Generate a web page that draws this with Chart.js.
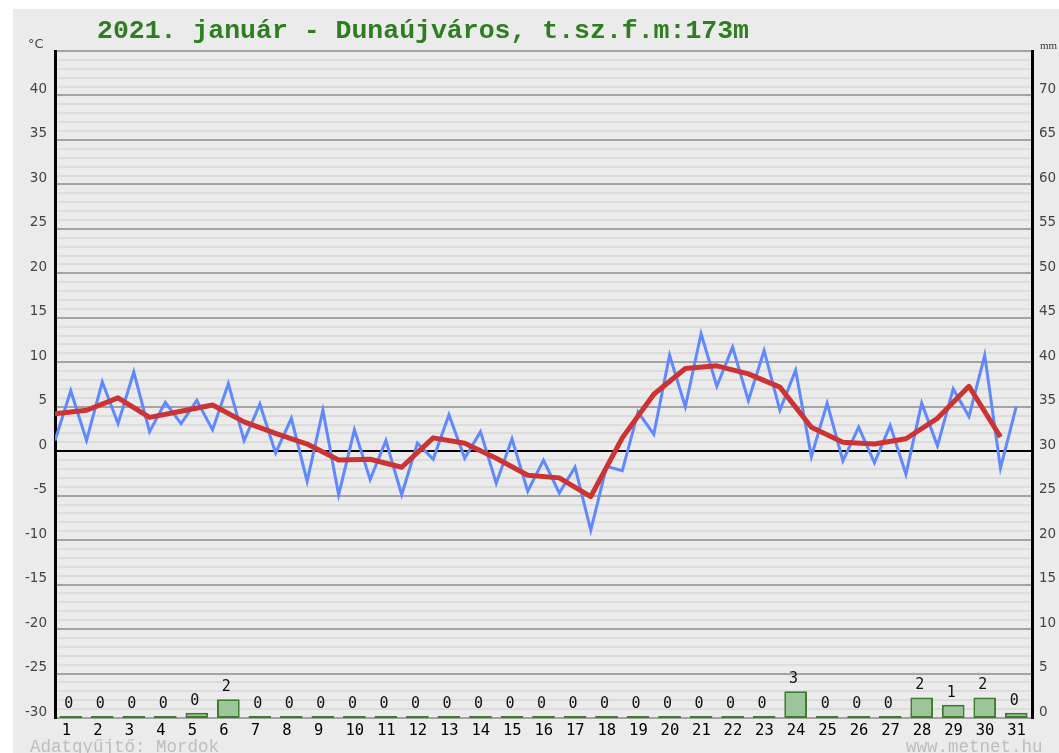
<!DOCTYPE html>
<html lang="hu">
<head>
<meta charset="utf-8">
<title>2021. január - Dunaújváros</title>
<script src="https://cdn.jsdelivr.net/npm/chart.js@4.4.1/dist/chart.umd.min.js"></script>
<style>
    html, body { margin: 0; padding: 0; background: #fff; overflow: hidden; }
    #panel { position: absolute; left: 13px; top: 9px; width: 1046px; height: 744px; background: #ebebeb; }
    #wrap { position: absolute; left: 0; top: 0; width: 1059px; height: 753px; }
    .txt { position: absolute; white-space: nowrap; }
    #title { left: 97px; top: 15px; font: bold 26.5px 'Liberation Mono', monospace; line-height: 32px; color: #2e7d20; }
    #unitC { left: 28px; top: 36px; font: 13px 'DejaVu Sans', sans-serif; line-height: 16px; color: #444; }
    #unitMm { left: 1040px; top: 38px; font: 11px 'Liberation Serif', serif; line-height: 14px; color: #333; }
    #author { left: 30px; top: 737px; font: 17.5px 'Liberation Mono', monospace; line-height: 20px; color: #bdbdbd; }
    #site { left: 906px; top: 737px; font: 17.5px 'Liberation Mono', monospace; line-height: 20px; color: #bdbdbd; }
</style>
</head>
<body>
<div id="panel"></div>
<div id="wrap"><canvas id="chart"></canvas></div>
<div class="txt" id="title">2021. január - Dunaújváros, t.sz.f.m:173m</div>
<div class="txt" id="unitC">°C</div>
<div class="txt" id="unitMm">mm</div>
<div class="txt" id="author">Adatgyűjtő: Mordok</div>
<div class="txt" id="site">www.metnet.hu</div>
<script>
const days = [1, 2, 3, 4, 5, 6, 7, 8, 9, 10, 11, 12, 13, 14, 15, 16, 17, 18, 19, 20, 21, 22, 23, 24, 25, 26, 27, 28, 29, 30, 31];

// night minimum (plotted half a day before noon) and daytime maximum, °C
const tempMin = [1.2, 1.2, 3.1, 2.2, 3.1, 2.4, 1.2, -0.2, -3.4, -4.9, -3.2, -4.9, -0.9, -0.8, -3.6, -4.5,
    -4.7, -8.9, -2.2, 1.9, 5.0, 7.3, 5.7, 4.6, -0.6, -1.1, -1.3, -2.6, 0.6, 3.9, -1.9];
const tempMax = [6.8, 7.8, 8.9, 5.5, 5.7, 7.6, 5.3, 3.7, 4.6, 2.4, 1.2, 0.9, 4.1, 2.2, 1.4, -1.0,
    -1.8, -1.7, 4.4, 10.8, 13.2, 11.7, 11.3, 9.1, 5.4, 2.7, 2.9, 5.4, 7.0, 10.8, 5.0];
// daily mean, °C
const tempAvg = [4.2, 4.6, 6.0, 3.8, 4.5, 5.2, 3.3, 2.0, 0.8, -1.0, -0.9, -1.8, 1.5, 0.9, -0.8, -2.7,
    -3.0, -5.1, 1.5, 6.4, 9.3, 9.6, 8.7, 7.2, 2.7, 1.0, 0.8, 1.4, 3.7, 7.3, 1.6];
// precipitation, mm (labels show whole mm, truncated)
const precip = [0, 0, 0, 0, 0.6, 2.1, 0, 0, 0, 0, 0, 0, 0, 0, 0, 0,
    0.2, 0, 0, 0, 0, 0, 0, 3.0, 0, 0, 0, 2.3, 1.5, 2.3, 0.6];

const tempTicks = [-30, -25, -20, -15, -10, -5, 0, 5, 10, 15, 20, 25, 30, 35, 40];
const precipTicks = [0, 5, 10, 15, 20, 25, 30, 35, 40, 45, 50, 55, 60, 65, 70];

const tempLine = [];
days.forEach((d, i) => {
    tempLine.push({ x: d - 0.5, y: tempMin[i] });
    tempLine.push({ x: d, y: tempMax[i] });
});
const avgLine = days.map((d, i) => ({ x: d - 0.5, y: tempAvg[i] }));
const precipBars = days.map((d, i) => ({ x: d, y: precip[i] }));

const barLabels = {
    id: 'barLabels',
    afterDatasetsDraw(chart) {
        const idx = chart.data.datasets.findIndex((ds) => ds.type === 'bar');
        const meta = chart.getDatasetMeta(idx);
        const ctx = chart.ctx;
        ctx.save();
        ctx.font = '15px "DejaVu Sans Mono"';
        ctx.fillStyle = '#111';
        ctx.textAlign = 'center';
        ctx.textBaseline = 'middle';
        meta.data.forEach((bar, i) => {
            ctx.fillText(String(Math.floor(precip[i])), bar.x - 2, bar.y - 12);
        });
        ctx.restore();
    }
};

const gridColor = (ctx) => {
    const v = ctx.tick.value;
    if (v === 0) return '#000';
    return v % 5 === 0 ? '#a3a3a3' : '#dcdcdc';
};

new Chart(document.getElementById('chart'), {
    type: 'bar',
    data: {
        datasets: [
            {
                type: 'line',
                data: avgLine,
                yAxisID: 'y',
                borderColor: '#cc3434',
                borderWidth: 5,
                borderJoinStyle: 'round',
                pointRadius: 0,
                tension: 0,
                order: 0
            },
            {
                type: 'line',
                data: tempLine,
                yAxisID: 'y',
                borderColor: '#6088ff',
                borderWidth: 3,
                pointRadius: 0,
                tension: 0,
                order: 1
            },
            {
                type: 'bar',
                data: precipBars,
                yAxisID: 'y2',
                backgroundColor: '#9cc69a',
                borderColor: '#3a7d2a',
                borderWidth: 2,
                borderSkipped: false,
                minBarLength: 2,
                barPercentage: 0.9,
                categoryPercentage: 0.8,
                order: 2
            }
        ]
    },
    options: {
        responsive: true,
        maintainAspectRatio: false,
        animation: false,
        layout: { padding: { top: 51, left: 0, right: 0, bottom: 0 } },
        plugins: {
            legend: { display: false },
            tooltip: { enabled: false }
        },
        scales: {
            x: {
                type: 'linear',
                offset: false,
                min: 0.5,
                max: 31.5,
                afterBuildTicks: (scale) => { scale.ticks = days.map((d) => ({ value: d })); },
                afterFit: (scale) => { scale.height = 35; },
                grid: { display: false, drawTicks: false, offset: false },
                border: { display: false },
                ticks: {
                    autoSkip: false,
                    maxRotation: 0,
                    align: 'start',
                    labelOffset: -9,
                    padding: 4,
                    color: '#000',
                    font: { family: 'DejaVu Sans Mono', size: 15.5 },
                    callback: (v) => String(v)
                }
            },
            y: {
                position: 'left',
                min: -30,
                max: 45,
                afterFit: (scale) => { scale.width = 55; },
                grid: { color: gridColor, lineWidth: 2, drawTicks: false },
                border: { display: true, color: '#000', width: 3 },
                ticks: {
                    stepSize: 1,
                    autoSkip: false,
                    padding: 8,
                    labelOffset: -6,
                    color: '#444',
                    font: { family: 'DejaVu Sans', size: 13.5 },
                    callback: (v) => (tempTicks.includes(v) ? String(v) : '')
                }
            },
            y2: {
                position: 'right',
                min: 0,
                max: 75,
                afterFit: (scale) => { scale.width = 27; },
                grid: { display: false, drawTicks: false },
                border: { display: true, color: '#000', width: 3 },
                ticks: {
                    stepSize: 5,
                    autoSkip: false,
                    padding: 7,
                    labelOffset: -6,
                    color: '#444',
                    font: { family: 'DejaVu Sans', size: 13.5 },
                    callback: (v) => (precipTicks.includes(v) ? String(v) : '')
                }
            }
        }
    },
    plugins: [barLabels]
});
</script>
</body>
</html>
